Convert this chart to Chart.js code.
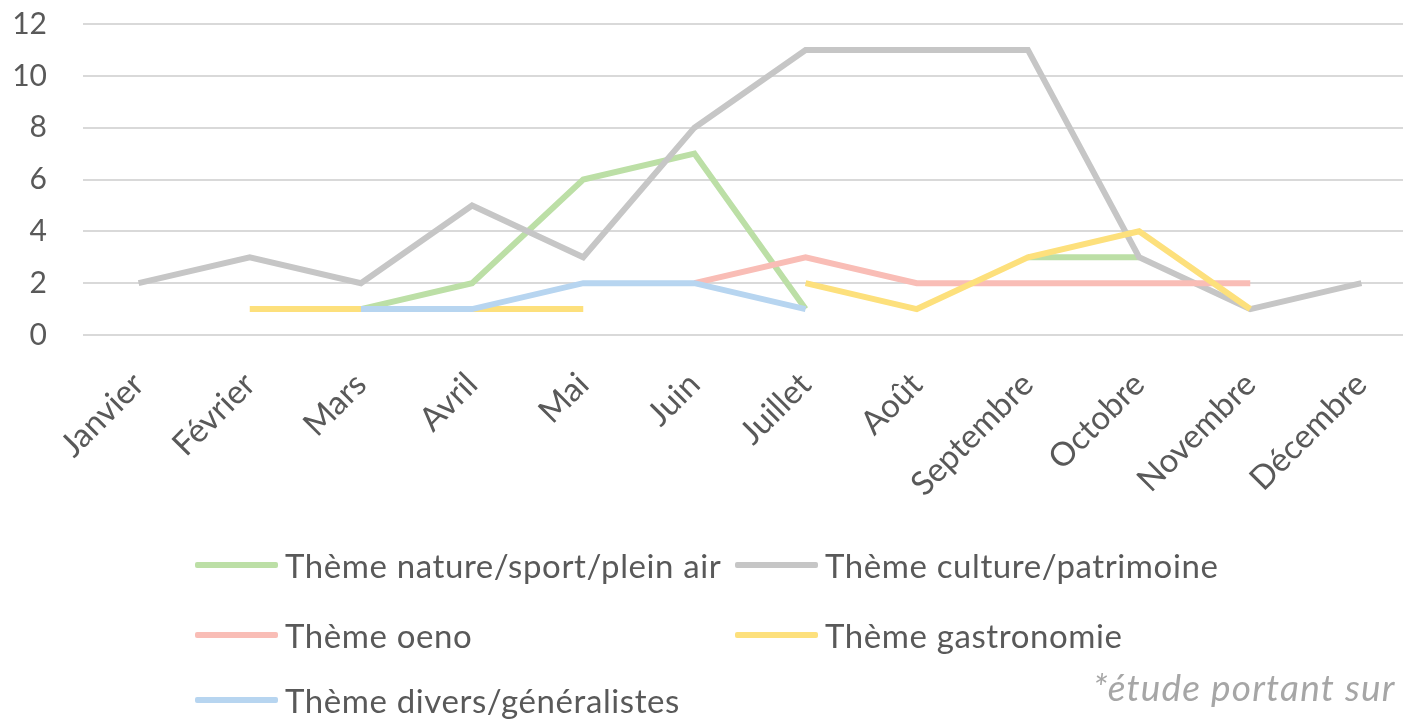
<!DOCTYPE html>
<html><head><meta charset="utf-8">
<script src="https://cdn.jsdelivr.net/npm/chart.js@4.4.1/dist/chart.umd.min.js"></script>
<style>
html,body{margin:0;padding:0;background:#fff;overflow:hidden;width:1403px;height:723px;}
#wrap{position:absolute;left:0;top:0;width:1420px;height:530px;}
#legend{position:absolute;left:0;top:0;width:1403px;height:723px;pointer-events:none;font-family:Lato,"Open Sans",sans-serif;color:#595959;}
.li{position:absolute;display:flex;align-items:center;height:40px;font-size:33px;letter-spacing:0.6px;white-space:nowrap;}
.sw{display:inline-block;width:83px;height:6px;margin-right:7px;border-radius:2px;}
#note{position:absolute;left:1093px;top:665px;font-size:37px;letter-spacing:1.2px;font-style:italic;color:#a6a6a6;font-family:Lato,"Open Sans",sans-serif;white-space:nowrap;line-height:44px;}
</style></head>
<body>
<div id="wrap"><canvas id="c" width="1420" height="530"></canvas></div>
<div id="legend"></div>
<div id="note">*étude portant sur</div>
<script>
const months = ["Janvier","Février","Mars","Avril","Mai","Juin","Juillet","Août","Septembre","Octobre","Novembre","Décembre"];
const yTicks = [0,2,4,6,8,10,12];
const seriesNames = ["Thème nature/sport/plein air","Thème culture/patrimoine","Thème oeno","Thème gastronomie","Thème divers/généralistes"];
const nature   = [null,null,1,2,6,7,1,null,3,3,null,null];
const culture  = [2,3,2,5,3,8,11,11,11,3,1,2];
const oeno     = [null,null,null,null,null,2,3,2,2,2,2,null];
const gastro   = [null,1,1,1,1,null,2,1,3,4,1,null];
const divers   = [null,null,1,1,2,2,1,null,null,null,null,null];
const colors = ["#bcdfa6","#c6c6c6","#f9bdb6","#fde07c","#b7d5f0"];
const values = [nature,culture,oeno,gastro,divers];

const datasets = values.map((v,i)=>({
  label: seriesNames[i],
  data: v,
  borderColor: colors[i],
  backgroundColor: colors[i],
  borderWidth: 6,
  pointRadius: 0,
  pointHoverRadius: 0,
  tension: 0,
  spanGaps: false,
  order: values.length - i,
  borderJoinStyle: 'miter'
}));

const chart = new Chart(document.getElementById('c'), {
  type: 'line',
  data: { labels: months, datasets },
  options: {
    responsive: false,
    animation: false,
    layout: { padding: { left: 0, top: 0, right: 3, bottom: 0 } },
    plugins: { legend: { display: false }, tooltip: { enabled: false } },
    scales: {
      x: {
        offset: true,
        afterFit: (s) => { s.height = 195; },
        grid: { display: false, drawTicks: false },
        border: { display: false },
        ticks: {
          autoSkip: false, maxRotation: 45, minRotation: 45,
          color: '#595959', padding: 30,
          font: { family: 'Lato, "Open Sans", sans-serif', size: 33 }
        }
      },
      y: {
        min: 0, max: 12,
        afterFit: (s) => { s.width = 83; s.paddingTop = 24; s.paddingBottom = 0; },
        afterBuildTicks: (s) => { s.ticks = yTicks.map(v => ({ value: v })); },
        grid: { color: '#d9d9d9', lineWidth: 2, drawTicks: false },
        border: { display: false },
        ticks: {
          color: '#595959', padding: 36,
          font: { family: 'Lato, "Open Sans", sans-serif', size: 30 }
        }
      }
    }
  }
});

// HTML legend built from chart datasets
const legendPos = [[195,545],[735,545],[195,615],[735,615],[195,680]];
const lg = document.getElementById('legend');
chart.data.datasets.forEach((d,i)=>{
  const el = document.createElement('div');
  el.className = 'li';
  el.style.left = legendPos[i][0] + 'px';
  el.style.top = legendPos[i][1] + 'px';
  el.innerHTML = '<span class="sw" style="background:'+d.borderColor+'"></span><span>'+d.label+'</span>';
  lg.appendChild(el);
});
</script>
</body></html>
